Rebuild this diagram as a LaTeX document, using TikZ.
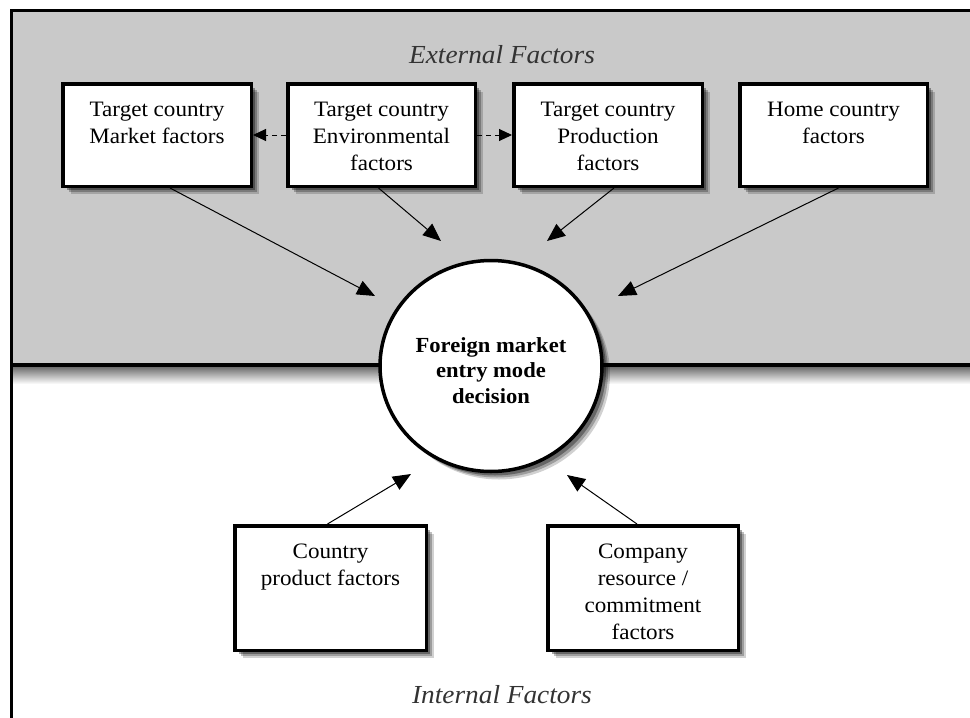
\documentclass[tikz,border=0pt]{standalone}
\usepackage{fontspec}
\setmainfont{Liberation Serif}[FakeStretch=1.05]
\usetikzlibrary{arrows.meta,shadows,shapes.geometric}
\definecolor{panelgray}{HTML}{C9C9C9}
\tikzset{
  softshadow/.style={
    drop shadow={shadow xshift=8pt, shadow yshift=-8pt, opacity=0.18, fill=black},
    drop shadow={shadow xshift=6pt, shadow yshift=-6pt, opacity=0.25, fill=black},
    drop shadow={shadow xshift=4pt, shadow yshift=-4pt, opacity=0.35, fill=black}},
  factorbox/.style={draw=black, line width=3.5pt, fill=white, inner sep=0pt, softshadow,
    font=\fontsize{22}{27}\selectfont, align=center},
  hub/.style={ellipse, draw=black, line width=3.5pt, fill=white, minimum width=222pt, minimum height=211pt, inner sep=0pt,
    softshadow, font=\bfseries\fontsize{21.5}{25.5}\selectfont, align=center},
  feed/.style={-{Triangle[length=18pt,width=15pt]}, line width=1pt},
  link/.style={-{Triangle[length=13pt,width=12pt]}, line width=1pt, dashed, dash pattern=on 5pt off 4pt},
  region/.style={font=\itshape\fontsize{26}{30}\selectfont, text=black!80}
}
\newcommand{\boxtext}[3]{\parbox[c][#1pt][t]{#2pt}{\centering\vspace{16pt}#3}}
\begin{document}
\begin{tikzpicture}[x=1pt,y=-1pt]
\useasboundingbox (0,0) rectangle (970,718);
\clip (0,0) rectangle (970,718);
% panel
\fill[panelgray] (10,10) rectangle (980,365);
\shade[top color=black!60, bottom color=white] (10,366) rectangle (980,384);
\draw[line width=3pt] (980,10) -- (11,10) -- (11,730);
\draw[line width=3.5pt] (11,365) -- (980,365);
% region labels
\node[region, anchor=base] (ext) at (502,63) {External Factors};
\node[region, anchor=base] (int) at (502,703) {Internal Factors};
% top boxes
\node[factorbox, minimum width=188.5pt, minimum height=102.5pt] (mkt) at (157,135) {\boxtext{98}{186}{Target country\\Market factors}};
\node[factorbox, minimum width=187.5pt, minimum height=102.5pt] (env) at (381.5,135) {\boxtext{98}{186}{Target country\\Environmental\\factors}};
\node[factorbox, minimum width=188.5pt, minimum height=102.5pt] (prod) at (608,135) {\boxtext{98}{186}{Target country\\Production\\factors}};
\node[factorbox, minimum width=187.5pt, minimum height=102.5pt] (home) at (833.5,135) {\boxtext{98}{186}{Home country\\factors}};
% bottom boxes
\node[factorbox, minimum width=191.5pt, minimum height=124.5pt] (cpf) at (330.5,588) {\boxtext{120}{189}{Country\\product factors}};
\node[factorbox, minimum width=190.5pt, minimum height=124.5pt] (crc) at (643,588) {\boxtext{120}{188}{Company\\resource /\\commitment\\factors}};
% hub
\node[hub] (hubn) at (491,366) {\rule{0pt}{24pt}Foreign market\\entry mode\\decision};
% coordinates for arrow ends
\coordinate (a1) at (375,296);
\coordinate (a2) at (441,241);
\coordinate (a3) at (547,241);
\coordinate (a4) at (618,296);
\coordinate (a5) at (411,474);
\coordinate (a6) at (567,475);
\draw[feed] ([xshift=13pt]mkt.south) -- (a1);
\draw[feed] ([xshift=-3pt]env.south) -- (a2);
\draw[feed] ([xshift=6pt]prod.south) -- (a3);
\draw[feed] ([xshift=5pt]home.south) -- (a4);
\draw[feed] ([xshift=-3pt]cpf.north) -- (a5);
\draw[feed] ([xshift=-6pt]crc.north) -- (a6);
% dashed links
\draw[link] (env.west) -- (mkt.east);
\draw[link] (env.east) -- (prod.west);
\end{tikzpicture}
\end{document}
